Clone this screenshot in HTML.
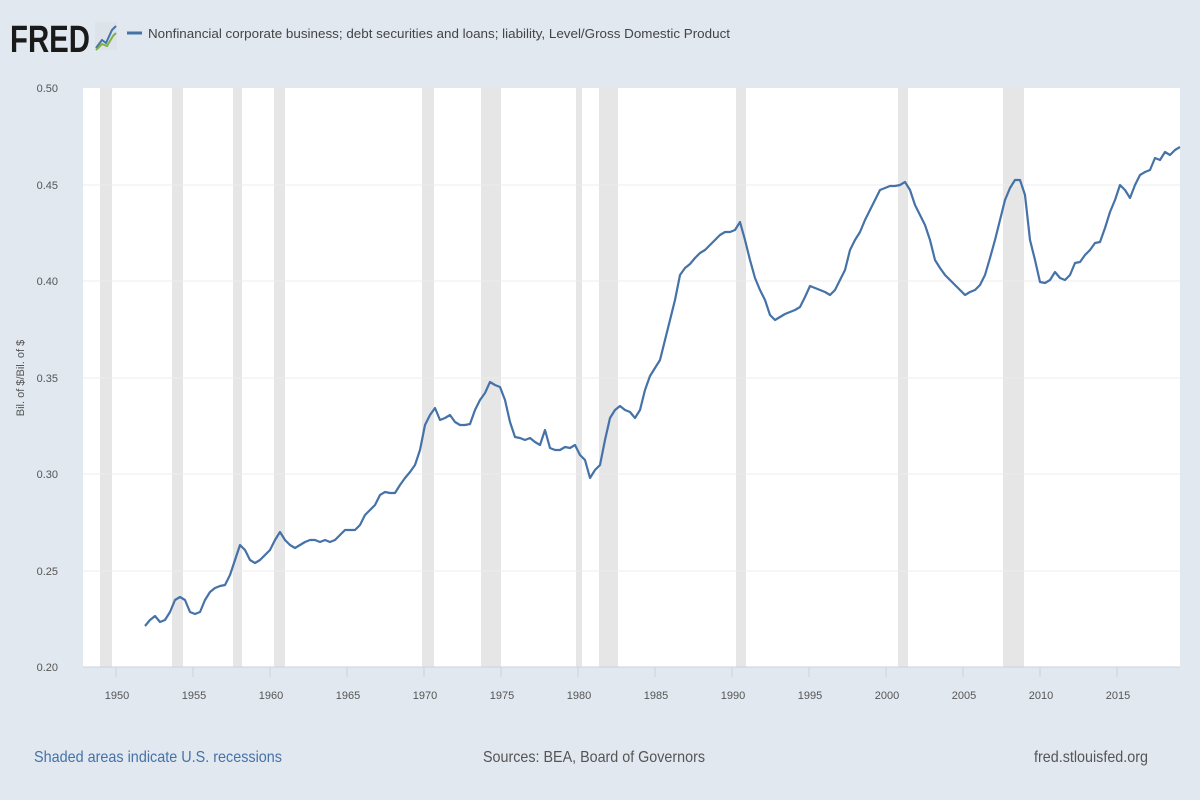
<!DOCTYPE html>
<html><head><meta charset="utf-8"><style>
html,body{margin:0;padding:0;background:#e1e8f0;}
svg{display:block;font-family:"Liberation Sans",sans-serif;}
</style></head><body>
<svg width="1200" height="800" viewBox="0 0 1200 800">
<rect width="1200" height="800" fill="#e1e8f0"/>
<text x="10" y="52" font-size="38" font-weight="bold" fill="#1a1a1a" textLength="80" lengthAdjust="spacingAndGlyphs">FRED</text>
<rect x="95" y="22" width="22" height="28" fill="#dde3e8"/>
<polyline points="96,48 102,40 106,43 112,30 116,26" fill="none" stroke="#4572a7" stroke-width="2"/>
<polyline points="96,50 102,44 107,46 113,36 116,33" fill="none" stroke="#7cb342" stroke-width="2"/>
<line x1="127" y1="33" x2="142" y2="33" stroke="#4572a7" stroke-width="3"/>
<text x="148" y="38" font-size="13" fill="#444" textLength="582" lengthAdjust="spacingAndGlyphs">Nonfinancial corporate business; debt securities and loans; liability, Level/Gross Domestic Product</text>
<rect x="83" y="88" width="1097" height="579" fill="#fff"/>
<g fill="#e6e6e6">
<rect x="100" y="88" width="12" height="579"/><rect x="172" y="88" width="11" height="579"/>
<rect x="233" y="88" width="9" height="579"/><rect x="274" y="88" width="11" height="579"/>
<rect x="422" y="88" width="12" height="579"/><rect x="481" y="88" width="20" height="579"/>
<rect x="576" y="88" width="6" height="579"/><rect x="599" y="88" width="19" height="579"/>
<rect x="736" y="88" width="10" height="579"/><rect x="898" y="88" width="10" height="579"/>
<rect x="1003" y="88" width="21" height="579"/>
</g>
<g stroke="#ececec" stroke-width="1">
<line x1="83" x2="1180" y1="185" y2="185"/><line x1="83" x2="1180" y1="281" y2="281"/>
<line x1="83" x2="1180" y1="378" y2="378"/><line x1="83" x2="1180" y1="474" y2="474"/>
<line x1="83" x2="1180" y1="571" y2="571"/>
</g>
<line x1="83" x2="1180" y1="667" y2="667" stroke="#c8d3e6"/>
<g font-size="11" fill="#555" text-anchor="end">
<text x="58" y="92">0.50</text><text x="58" y="189">0.45</text><text x="58" y="285">0.40</text>
<text x="58" y="382">0.35</text><text x="58" y="478">0.30</text><text x="58" y="575">0.25</text><text x="58" y="671">0.20</text>
</g>
<text transform="translate(24,378) rotate(-90)" font-size="11" fill="#555" text-anchor="middle">Bil. of $/Bil. of $</text>
<g stroke="#c8d3e6"><line x1="116" x2="116" y1="667" y2="677"/><line x1="193" x2="193" y1="667" y2="677"/><line x1="270" x2="270" y1="667" y2="677"/><line x1="347" x2="347" y1="667" y2="677"/><line x1="424" x2="424" y1="667" y2="677"/><line x1="501" x2="501" y1="667" y2="677"/><line x1="578" x2="578" y1="667" y2="677"/><line x1="655" x2="655" y1="667" y2="677"/><line x1="732" x2="732" y1="667" y2="677"/><line x1="809" x2="809" y1="667" y2="677"/><line x1="886" x2="886" y1="667" y2="677"/><line x1="963" x2="963" y1="667" y2="677"/><line x1="1040" x2="1040" y1="667" y2="677"/><line x1="1117" x2="1117" y1="667" y2="677"/></g>
<g font-size="11" fill="#555" text-anchor="middle">
<text x="117" y="699">1950</text><text x="194" y="699">1955</text><text x="271" y="699">1960</text><text x="348" y="699">1965</text><text x="425" y="699">1970</text><text x="502" y="699">1975</text><text x="579" y="699">1980</text><text x="656" y="699">1985</text><text x="733" y="699">1990</text><text x="810" y="699">1995</text><text x="887" y="699">2000</text><text x="964" y="699">2005</text><text x="1041" y="699">2010</text><text x="1118" y="699">2015</text>
</g>
<polyline fill="none" stroke="#4572a7" stroke-width="2.2" stroke-linejoin="round" points="145,626 150,620 155,616 160,622 165,620 170,612 175,600 180,597 185,600 190,612 195,614 200,612 205,600 210,592 215,588 220,586 225,585 230,575 235,560 240,545 245,550 250,560 255,563 260,560 265,555 270,550 275,540 280,532 285,540 290,545 295,548 300,545 305,542 310,540 315,540 320,542 325,540 330,542 335,540 340,535 345,530 350,530 355,530 360,525 365,515 370,510 375,505 380,495 385,492 390,493 395,493 400,485 405,478 410,472 415,465 420,450 425,425 430,415 435,408 440,420 445,418 450,415 455,422 460,425 465,425 470,424 475,410 480,400 485,393 490,382 495,385 500,387 505,400 510,422 515,437 520,438 525,440 530,438 535,442 540,445 545,430 550,448 555,450 560,450 565,447 570,448 575,445 580,455 585,460 590,478 595,470 600,465 605,440 610,418 615,410 620,406 625,410 630,412 635,418 640,410 645,390 650,376 655,368 660,360 665,340 670,320 675,300 680,275 685,268 690,264 695,258 700,253 705,250 710,245 715,240 720,235 725,232 730,232 735,230 740,222 745,240 750,260 755,278 760,290 765,300 770,315 775,320 780,317 785,314 790,312 795,310 800,307 805,297 810,286 815,288 820,290 825,292 830,295 835,290 840,280 845,270 850,250 855,240 860,232 865,220 870,210 875,200 880,190 885,188 890,186 895,186 900,185 905,182 910,190 915,205 920,215 925,225 930,240 935,260 940,268 945,275 950,280 955,285 960,290 965,295 970,292 975,290 980,285 985,275 990,258 995,240 1000,220 1005,200 1010,188 1015,180 1020,180 1025,195 1030,240 1035,260 1040,282 1045,283 1050,280 1055,272 1060,278 1065,280 1070,275 1075,263 1080,262 1085,255 1090,250 1095,243 1100,242 1105,228 1110,212 1115,200 1120,185 1125,190 1130,198 1135,185 1140,175 1145,172 1150,170 1155,158 1160,160 1165,152 1170,155 1175,150 1180,147"/>
<text x="34" y="762" font-size="16" fill="#4572a7" textLength="248" lengthAdjust="spacingAndGlyphs">Shaded areas indicate U.S. recessions</text>
<text x="483" y="762" font-size="16" fill="#555" textLength="222" lengthAdjust="spacingAndGlyphs">Sources: BEA, Board of Governors</text>
<text x="1148" y="762" font-size="16" fill="#555" text-anchor="end" textLength="114" lengthAdjust="spacingAndGlyphs">fred.stlouisfed.org</text>
</svg>
</body></html>
